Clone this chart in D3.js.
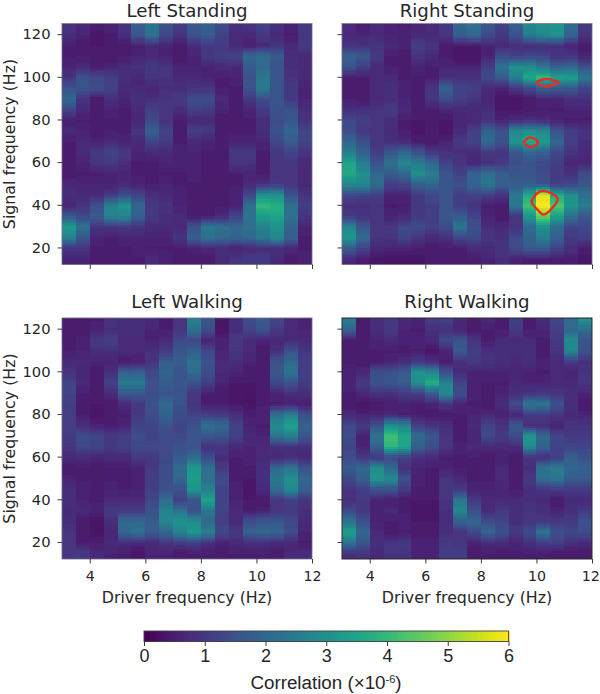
<!DOCTYPE html>
<html><head><meta charset="utf-8">
<script src="https://cdn.jsdelivr.net/npm/d3@7"></script>
<style>html,body{margin:0;background:#fff}svg{display:block}</style></head>
<body><svg id="c" width="600" height="694"></svg>
<script>
const signalHz=[125,120,115,110,105,100,95,90,85,80,75,70,65,60,55,50,45,40,35,30,25,20,15,12];
const driverEdges=[3,3.5,4,4.5,5,5.5,6,6.5,7,7.5,8,8.5,9,9.5,10,10.5,11,11.5,12];
const xTicks=[4,6,8,10,12];
const yTicks=[20,40,60,80,100,120];
const barTicks=[0,1,2,3,4,5,6];
const titles=["Left Standing","Right Standing","Left Walking","Right Walking"];
// one inner array per driver-frequency column, values in units of 1e-6, listed along signalHz
const leftStanding=[
[.9,.8,.5,.5,.6,.9,1.5,2,1.2,.5,.7,.5,.5,.5,.4,.7,.8,.6,1.6,3.3,2.6,.9,.6,.6],
[.7,.6,.4,.5,.7,1.5,1.5,.9,.7,.5,.6,.7,.7,.6,.5,.6,.7,.9,1.3,2.2,1.6,.9,.6,.6],
[.5,.3,.4,.4,.5,1.3,1.4,.4,.4,.5,.4,.6,1,.9,.5,.6,.7,1.5,1.7,.9,.6,.5,.4,.4],
[.6,.5,.4,.4,.6,1.1,1.2,.8,.6,.5,.5,.7,1.2,1,.6,.6,1,2.7,2.6,.9,.5,.5,.5,.5],
[.9,.8,.4,.5,.7,.8,.7,.6,.5,.5,.5,.6,1,.8,.6,.7,1.4,3.1,2.7,1,.6,.5,.5,.5],
[1.8,1.6,.5,.6,.9,.6,.7,.8,.7,.6,.9,.7,.6,.5,.5,.6,1.2,2,1.8,.9,.6,.6,.5,.5],
[2.3,2.2,.7,.7,1,.9,.6,.8,1.1,1.3,1.8,1.2,.7,.5,.5,.5,.8,1,1,.7,.6,.5,.7,.7],
[1.5,1.3,.6,.6,.9,.9,.8,.9,.9,.9,1.2,1,.7,.6,.5,.6,.7,.9,.8,.7,.6,.5,.6,.6],
[1.1,.9,.4,.4,.6,.7,.8,1,.8,.5,.5,.5,.6,.6,.5,.5,.6,.6,.7,.7,.9,.5,.4,.4],
[1.7,1.5,.7,.6,.6,.7,.9,1.4,1.1,.7,1.1,.7,.6,.6,.6,.5,.5,.4,.5,1.5,1.8,.6,.4,.4],
[1.8,1.7,1,1,.6,.6,.9,1.4,1,.7,1,.6,.5,.5,.5,.4,.4,.4,.5,2.4,2.2,.7,.4,.4],
[1.3,1.2,1,1.1,.7,.5,.5,.7,.6,.4,.5,.5,.5,.5,.4,.4,.4,.5,.7,2.2,2,.8,.7,.7],
[.8,.7,.7,1.2,.7,.6,.5,.5,.4,.4,.5,.6,1,.9,.5,.5,.6,.6,1.2,2,1.9,.6,.9,.9],
[.9,.7,.5,2,1.7,1.5,1.5,1,.6,.5,.5,.6,1,.9,.6,.7,1.3,2.2,2.2,2.2,2,.7,1,1],
[1.2,1,.7,2.1,2,2.4,2.4,1.4,1,.8,.8,.6,.5,.4,.5,.8,3,4,3.3,2.6,2.4,.8,1,1],
[.8,.7,.9,1.7,1.5,1.6,1.6,1.5,1.5,1.4,1.5,1.3,1,.9,.9,1,3,3.8,3.5,3,2.8,.8,.7,.6],
[.6,.5,.7,.8,.8,.9,1,1,1.5,1.6,2,1.7,1.2,.9,.9,.9,1.5,2.2,2.2,1.9,1.8,.7,.4,.4],
[1,1,1,.7,.7,.7,.6,.6,.8,.9,1.2,1.2,.9,.7,.7,.7,.9,1.1,.9,.6,.5,.5,.6,.6]];
const rightStanding=[
[.7,.7,.9,1.8,1.5,.5,.4,.5,.8,1.3,1.4,2,2.5,3.5,3.6,2.8,1.3,.8,1,2.7,3.2,1.7,.7,.6],
[.5,.6,.9,1.6,1.1,.5,.4,.4,.8,1.1,1,1.5,1.8,2.5,3,2.8,1.2,.8,.9,1.6,2.1,1.2,.5,.5],
[.7,.7,.9,1,.7,.7,.7,.7,.9,.9,.9,.9,1.1,1.5,2,2.1,1.1,.9,.9,.9,.9,.7,.3,.3],
[.6,.6,.7,.5,.5,.7,.8,.8,1,.8,.7,.8,1.6,2.2,1.7,1.1,.6,.5,.6,1,.9,.6,.3,.3],
[.5,.6,.6,.4,.4,.5,.6,.6,.7,.5,.5,.7,1.9,2.8,2,1.2,.6,.5,.7,1.3,1.2,.6,.3,.3],
[.6,.7,1.1,.9,.6,.5,.5,.4,.5,.4,.3,.5,1.5,2.5,3,1.8,1,1,1,1.4,.9,.5,.3,.3],
[.7,.7,.9,.7,.5,.5,.9,.9,.5,.4,.4,.4,1,2,2.5,2,1.3,1.1,1.1,1.1,.7,.4,.5,.5],
[1,.9,.4,.5,.6,.9,1.8,1.4,.6,.4,.3,.6,.8,1.2,1.6,1.6,1.5,1.5,1.6,1.4,.8,.5,.5,.5],
[2,1.8,.4,.3,.6,.9,1.2,1.1,.7,.6,.7,1,.8,.9,1.2,1.5,1.1,1.1,1.7,2.4,1.2,.5,.4,.4],
[2.2,2,.4,.3,.6,.9,1.1,.9,.7,.7,1.1,1.2,.7,.6,1.9,1.9,1.2,.9,1.2,1.5,1.3,.7,.5,.5],
[1.6,1.4,.6,.6,1.1,1.3,.7,.6,.8,.9,1.9,2,1,.8,2.2,2.4,1.1,.5,.6,.8,.9,.7,.6,.6],
[1.2,1,.7,1.4,2.3,1.6,.6,.3,.4,.6,1.5,1.5,.9,1,1.8,1.8,.9,.4,.4,.7,.8,.9,.8,.8],
[1.8,1.5,.8,1.1,3.1,2.5,1,.3,.4,.7,2.8,3.1,1.6,1.4,1.6,1.7,2.4,2.4,.9,.9,1.3,1.3,.6,.6],
[2.8,2.5,.7,1.3,2.9,3.6,1.3,.4,.4,.8,3,3.7,2,1.5,1.6,1.7,3.6,4.2,3.2,2,1.9,1.7,.5,.5],
[3,2.8,.8,1.2,2.3,4.1,1.8,.6,.5,.7,2.8,3.3,1.8,1.3,1.4,1.5,5.7,6,4.6,3,2.5,1.7,.5,.5],
[3.2,3,.8,.9,1.8,3.5,1.7,.6,.5,.6,1.5,2,1.3,1.1,1,1.1,3.6,4.4,3.4,2.1,1.8,1.2,.5,.5],
[2.1,1.9,.6,.9,2,3.4,1.6,.8,.6,.5,1.1,1.1,.9,.6,.9,1.2,2.9,3.2,2.2,1.2,1,.8,.5,.5],
[1,.9,.4,.6,1.5,2.4,1.2,.8,.6,.5,.9,.8,.7,.6,1.4,1.6,2.2,2.5,1.6,1.3,1.1,.5,.3,.3]];
const leftWalking=[
[.5,.4,.4,.5,.7,.9,1.2,1.2,1.1,1.1,1.1,1,.9,.7,.4,.6,.8,.8,.7,.8,.9,.9,.9,.9],
[.4,.4,.6,.6,.7,.6,.7,.5,.5,.5,.8,1.4,1.3,.7,.5,.5,.6,.6,.7,.4,.4,.5,1,.9],
[.5,.6,1,.8,.6,.4,.5,.4,.4,.3,.6,1.2,1.2,.6,.4,.4,.5,.5,.6,.3,.3,.5,.7,.7],
[.9,.8,1.1,.8,.6,.8,1.2,.7,.4,.4,.5,1,1,.7,.5,.5,.6,.7,1,.8,.6,.7,.6,.6],
[.8,.8,.7,.7,.4,1.8,2.5,1.6,.7,.5,.6,1.1,1.1,.7,.5,.5,.5,.7,1,2,2,.7,.5,.5],
[.8,.8,.7,.7,.5,1.8,2.5,1.6,1,1,1.2,1.4,1.3,1,.6,.6,.6,.7,1,2,2.2,.7,.3,.4],
[.7,.6,.6,.8,.9,1.3,1.5,1.4,1.5,1.4,1.2,1.2,1.3,1,1,1.1,1.1,1.3,1.5,1.7,1.7,.7,.6,.6],
[.5,.5,.7,1,1.7,1.9,1.7,1.6,2,1.9,1.5,1.3,1.3,1.3,1.4,1.4,1.5,2.1,2.7,2.7,2,.9,.6,.6],
[.9,.9,1.3,1.6,1.7,1.6,1.6,1.5,1.5,1.4,1.2,1.3,1.5,1.7,2.1,2,1.5,1.1,2.3,3,2.7,1,.4,.4],
[2.6,2.2,1.3,1.8,2.2,2.1,1.5,.9,.9,1.2,1.5,1.6,1.5,2.1,3.2,3.3,3.1,1.5,1.5,2.9,3.2,1.1,.5,.5],
[1.6,1.4,.6,1.3,1.5,1.4,1.1,.5,.5,1.1,2.2,1.6,.8,1.4,2.2,2.2,2.6,3.5,2.3,2,2.6,.8,.5,.5],
[.3,.3,.6,.6,.7,.7,.6,.4,.5,1,2,1.5,.9,.8,1,1.4,1.2,1.2,1.2,1.1,1.3,.6,.4,.4],
[.8,.8,1,.9,.8,.6,.4,.3,.4,.8,1.2,1.1,.7,.5,.5,.5,.6,.6,.7,.7,1,.7,.5,.5],
[1.4,1.2,.7,.7,.6,.4,.4,.3,.3,.5,.6,.7,.6,.6,.5,.4,.3,.4,.5,1.4,1.8,.8,.5,.5],
[1.7,1.5,.6,.4,.4,.5,.5,.5,.5,.6,.5,.6,.7,.7,.8,.8,.7,.4,.6,1.6,2,.8,.5,.5],
[1.3,1,.7,.8,1.5,1.6,1.3,.6,.5,2.2,2.9,2.3,.8,.7,2,2.4,2.1,.9,.9,1.6,1.9,.7,.4,.4],
[.7,.7,.7,1.5,2,2.3,1.5,.8,.5,2.6,3.5,2.6,.8,.8,2.3,3,2.8,1.1,1,1.3,1.4,.6,.7,.7],
[.6,.6,.7,.9,1.1,1.1,1,.8,.5,1.5,1.8,1.6,.8,.7,1.5,2,1.8,.9,.8,.7,.6,.5,.7,.7]];
const rightWalking=[
[2.6,1.8,.5,.4,.5,.6,.6,.5,.4,.7,1.3,1.4,1.2,1.4,1.7,1.3,.9,.8,1.3,2.3,3.4,2.2,.8,.8],
[.4,.4,.5,.4,.4,.7,1,.7,.3,.6,1,.6,.6,1,2,1.8,1.1,1,1,1.5,2,1.6,.9,.8],
[.8,.8,.6,.5,.5,1.4,1.5,.8,.4,.6,1.5,2.3,1.8,1,2.9,3.1,1.5,.6,.6,.6,.7,.8,.7,.6],
[1,1,.7,.5,.6,1.5,1.6,.8,.5,.7,3,4.2,3.9,1.3,2,2.9,1.5,.5,.7,.5,.4,.9,.9,.8],
[.7,.6,.6,.4,.8,1.7,1.7,1,.6,.5,2.8,3.5,3.5,1.1,.8,1.5,1,.4,.5,.6,.5,1,.9,.8],
[.6,.5,.6,.5,1,3,3,1,.5,.5,1.1,2.1,1.8,.8,.6,.6,.5,.4,.3,.4,.4,.6,.6,.6],
[1.1,.8,.7,.3,.8,2.7,3.8,1.6,.6,.4,.9,1.6,1.4,.7,.5,.5,.4,.4,.3,.4,.4,.6,.6,.6],
[1.2,.8,1.3,.6,.5,1.4,2.7,2.8,.9,.4,.8,.9,.9,.5,.6,.9,.9,.9,.8,.8,.8,1,1.1,1],
[.7,.6,1.5,1.7,.8,.7,1.2,1.4,.6,.5,.5,.4,.6,.5,.5,.7,1,2.3,2.8,1.8,.9,.9,1.1,1],
[.4,.4,.9,1.1,1,.6,.6,.6,.5,.6,.7,.6,.7,.5,.4,.5,.6,1,1.5,2,1.3,.6,.4,.4],
[.7,.5,.4,.8,.9,.6,.5,.4,.4,.7,1.2,1.3,.7,.4,.5,.5,.6,.7,.7,1.4,2,.7,.5,.5],
[.5,.5,.7,.8,.8,.6,.5,.6,.8,.5,.9,1,.7,.5,.7,.7,.6,.7,1,1.2,1.5,.7,.4,.4],
[1.1,1,.7,.8,.7,.6,.7,.8,1.4,.6,1.6,1.4,.7,.4,.4,.5,.5,.7,.8,.8,1,.6,.5,.5],
[.5,.5,.7,.8,.8,.6,.6,.9,2.4,1,.8,3.2,2.8,.9,.8,1,.8,.8,.9,.9,1.4,.8,.5,.5],
[.8,.6,.5,.4,.6,.5,.6,1,2.3,1,.8,2,1.9,.8,2.3,2.1,.9,.7,.8,1,2.3,1,.5,.5],
[1.3,1.1,1,.9,.7,.7,.7,.9,1.5,.9,.6,1.2,1.2,1.1,2.5,2.3,1,.4,.6,1,1.5,1.1,.4,.4],
[2.1,2,2.8,2.8,1,.6,.7,.8,.8,.7,.9,1,1.2,1.8,2,1.7,1,.7,.8,1,1.3,.8,.4,.4],
[3.1,2.1,1.5,1.5,.8,.9,.9,.6,.4,.6,.9,1,1.2,1.5,1.8,1.7,1,.7,1,1.5,1.4,.7,.4,.4]];
const panelData=[leftStanding,rightStanding,leftWalking,rightWalking];
// significance outlines on Right Standing: [driver Hz, signal Hz]
const contourTop=[[10.02,97.4],[10.3,99],[10.8,97.4],[10.3,95.5]];
const contourMid=[[9.56,69.2],[9.77,71.6],[10.06,69.2],[9.8,67]];
const contourLow=[[9.83,41.3],[10.04,45.5],[10.25,46.5],[10.76,42.9],[10.26,35.4],[10.04,37.7]];
const contours=[contourTop,contourMid,contourLow];

const svg=d3.select("#c");
const ink="#262626";
const color=d3.scaleSequential(d3.interpolateViridis).domain([0,6]);
const pw=250,ph=241;
const layout=[{x:62,y:23.5},{x:342,y:23.5},{x:62,y:318},{x:342,y:318}];
const x=d3.scaleLinear().domain([3,12]).range([0,pw]);
const y=d3.scaleLinear().domain([12,125]).range([ph,0]);
const fine=d3.range(12,125,1);
const defs=svg.append("defs");
defs.append("filter").attr("id","soft").attr("x","-2%").attr("y","-2%").attr("width","104%").attr("height","104%")
  .append("feGaussianBlur").attr("stdDeviation","0.7 0.5");

panelData.forEach((cols,p)=>{
  const g=svg.append("g").attr("transform",`translate(${layout[p].x},${layout[p].y})`);
  const cid="clip"+p;
  defs.append("clipPath").attr("id",cid).append("rect").attr("width",pw).attr("height",ph);
  const img=g.append("g").attr("clip-path",`url(#${cid})`).append("g").attr("filter","url(#soft)");
  cols.forEach((col,i)=>{
    const v=d3.scaleLinear().domain(signalHz).range(col).clamp(true);
    img.append("g").attr("shape-rendering","crispEdges").selectAll("rect").data(fine).join("rect")
      .attr("x",x(driverEdges[i])).attr("width",x(driverEdges[i+1])-x(driverEdges[i])+1)
      .attr("y",d=>y(d+1)).attr("height",d=>y(d)-y(d+1)+1)
      .attr("fill",d=>color(v(d+.5)));
  });
  if(p===1){
    const line=d3.line().x(d=>x(d[0])).y(d=>y(d[1])).curve(d3.curveCatmullRomClosed.alpha(.5));
    g.selectAll("path.ct").data(contours).join("path").attr("class","ct")
      .attr("d",line).attr("fill","none").attr("stroke","#ee2a24").attr("stroke-width",2.4);
  }
  g.append("rect").attr("x",.0).attr("y",0).attr("width",pw).attr("height",ph)
    .attr("fill","none").attr("stroke",p===3?"#2a2a2a":"#6e6a84").attr("stroke-width",p===3?1:.8);
  const ax=d3.axisBottom(x).tickValues(xTicks).tickSize(4.5).tickPadding(7);
  if(p<2) ax.tickFormat("");
  const xa=g.append("g").attr("transform",`translate(0,${ph})`).call(ax);
  const ay=d3.axisLeft(y).tickValues(yTicks).tickSize(4.5).tickPadding(7);
  if(p%2) ay.tickFormat("");
  const ya=g.append("g").call(ay);
  [xa,ya].forEach(a=>{
    a.select(".domain").remove();
    a.selectAll("line").attr("stroke",ink).attr("stroke-width",.9);
  });
  xa.selectAll("text").attr("fill",ink).attr("font-family","DejaVu Sans").attr("font-size",14.2);
  ya.selectAll("text").attr("fill",ink).attr("font-family","DejaVu Sans").attr("font-size",14.7);
  if(p===3) xa.selectAll("text").filter(d=>d===12).attr("dx",-1.8);
  g.append("text").attr("x",pw/2).attr("y",p<2?-6.5:-10).attr("text-anchor","middle")
    .attr("font-family","DejaVu Sans").attr("font-size",18.2).attr("fill",ink).text(titles[p]);
  if(p>=2) g.append("text").attr("x",pw/2).attr("y",ph+44).attr("text-anchor","middle")
    .attr("font-family","DejaVu Sans").attr("font-size",15.8).attr("fill",ink).text("Driver frequency (Hz)");
  if(p%2===0) g.append("text").attr("transform",`translate(${-47.2},${ph/2}) rotate(-90)`).attr("text-anchor","middle")
    .attr("font-family","DejaVu Sans").attr("font-size",15.8).attr("fill",ink).text("Signal frequency (Hz)");
});

// colour bar
const bx=d3.scaleLinear().domain([0,6]).range([144,508.5]);
const bar=svg.append("g");
bar.append("g").attr("shape-rendering","crispEdges").selectAll("rect").data(d3.range(0,6,.02)).join("rect")
  .attr("x",d=>bx(d)).attr("width",d=>bx(d+.02)-bx(d)+1).attr("y",631).attr("height",10.5).attr("fill",d=>color(d));
bar.append("rect").attr("x",144).attr("y",631).attr("width",364.5).attr("height",10.5)
  .attr("fill","none").attr("stroke","#444").attr("stroke-width",.9);
const ba=bar.append("g").attr("transform","translate(0,641.5)")
  .call(d3.axisBottom(bx).tickValues(barTicks).tickSize(4.5).tickPadding(3).tickFormat(d3.format("d")));
ba.select(".domain").remove();
ba.selectAll("line").attr("stroke",ink).attr("stroke-width",.9);
ba.selectAll("text").attr("fill",ink).attr("font-family","Liberation Sans").attr("font-size",18);
const lab=svg.append("text").attr("x",326).attr("y",688.5).attr("text-anchor","middle")
  .attr("font-family","Liberation Sans").attr("font-size",18.8).attr("fill",ink);
lab.append("tspan").text("Correlation (×10");
lab.append("tspan").attr("dy",-6).attr("font-size",11).text("-6");
lab.append("tspan").attr("dy",6).text(")");
</script></body></html>
